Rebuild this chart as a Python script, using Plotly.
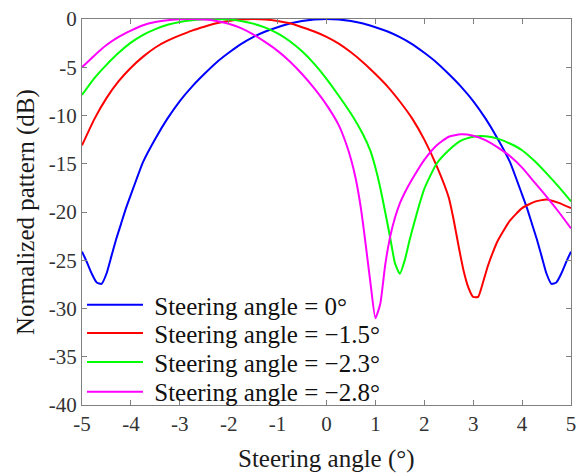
import plotly.graph_objects as go

# ---- data ----
blue_x = [-5, -4.9, -4.8, -4.7, -4.6, -4.5, -4.4, -4.3, -4.2, -4.1, -4, -3.75, -3.5, -3.25, -3, -2.75, -2.5,
          -2.25, -2, -1.75, -1.5, -1.25, -1, -0.75, -0.5, -0.25, 0,
          0.25, 0.5, 0.75, 1, 1.25, 1.5, 1.75, 2, 2.25, 2.5, 2.75, 3, 3.25, 3.5, 3.75, 4,
          4.1, 4.2, 4.3, 4.4, 4.5, 4.6, 4.7, 4.8, 4.9, 5]
blue_y = [-24.1, -25.2, -26.4, -27.3, -27.45, -26.4, -24.6, -22.8, -21.2, -19.6, -18.2, -14.8, -12.4, -10.3,
          -8.5, -7.0, -5.7, -4.5, -3.5, -2.6, -1.88, -1.3, -0.85, -0.47, -0.21, -0.05, 0,
          -0.05, -0.21, -0.47, -0.85, -1.3, -1.88, -2.6, -3.5, -4.5, -5.7, -7.0, -8.5, -10.3, -12.4, -14.8, -18.2,
          -19.6, -21.2, -22.8, -24.6, -26.4, -27.45, -27.3, -26.4, -25.2, -24.1]

red_x = [-5, -4.75, -4.5, -4.25, -4, -3.75, -3.5, -3.25, -3, -2.75, -2.5, -2.25, -2, -1.75, -1.5,
         -1.25, -1, -0.75, -0.5, -0.25, 0, 0.25, 0.5, 0.75, 1, 1.25, 1.5, 1.75, 2, 2.25, 2.5,
         2.6, 2.7, 2.8, 2.9, 3.0, 3.1, 3.2, 3.3, 3.4, 3.5,
         3.75, 4, 4.25, 4.5, 4.75, 5]
red_y = [-13.1, -10.4, -8.2, -6.45, -5.05, -3.9, -2.95, -2.25, -1.7, -1.2, -0.8, -0.45, -0.2, -0.05, 0,
         -0.05, -0.2, -0.45, -0.85, -1.3, -1.85, -2.55, -3.45, -4.5, -5.7, -7.0, -8.55, -10.3, -12.5, -15.2, -18.5,
         -20.8, -23.5, -26.0, -27.8, -28.8, -28.8, -27.3, -25.6, -24.2, -23.0,
         -20.9, -19.6, -18.95, -18.7, -19.05, -19.6]

green_x = [-5, -4.75, -4.5, -4.25, -4, -3.75, -3.5, -3.25, -3, -2.75, -2.5, -2.3,
           -2, -1.75, -1.5, -1.25, -1, -0.75, -0.5, -0.25, 0, 0.25, 0.5, 0.75, 0.9,
           1.0, 1.1, 1.2, 1.3, 1.4, 1.5, 1.6, 1.7, 1.8, 1.9, 2.0,
           2.25, 2.5, 2.75, 3, 3.25, 3.5, 3.75, 4, 4.25, 4.5, 4.75, 5]
green_y = [-7.87, -6.15, -4.75, -3.5, -2.45, -1.65, -1.05, -0.6, -0.3, -0.12, -0.03, 0,
           -0.05, -0.2, -0.48, -0.9, -1.5, -2.3, -3.35, -4.65, -6.2, -7.95, -9.8, -12.0, -13.7,
           -15.4, -17.5, -20.0, -22.6, -25.3, -26.4, -25.0, -22.9, -21.0, -19.2, -17.6,
           -15.0, -13.6, -12.6, -12.2, -12.15, -12.4, -12.9, -13.6, -14.7, -16.0, -17.4, -18.9]

magenta_x = [-5, -4.75, -4.5, -4.25, -4, -3.75, -3.5, -3.25, -3, -2.8,
             -2.5, -2.25, -2, -1.75, -1.5, -1.25, -1, -0.75, -0.5, -0.25, 0, 0.25,
             0.4, 0.5, 0.6, 0.7, 0.8, 0.9, 1.0, 1.1, 1.2, 1.3, 1.4, 1.5, 1.6,
             1.8, 2.0, 2.25, 2.5, 2.75, 3, 3.25, 3.5, 3.75, 4, 4.25, 4.5, 4.75, 5]
magenta_y = [-5.0, -3.8, -2.7, -1.85, -1.2, -0.65, -0.32, -0.12, -0.03, 0,
             -0.05, -0.2, -0.5, -0.95, -1.6, -2.4, -3.3, -4.4, -5.7, -7.2, -8.9, -11.0,
             -12.9, -14.5, -16.6, -19.5, -23.3, -27.4, -31.0, -29.5, -25.5, -22.6, -20.6, -19.1, -18.0,
             -16.2, -14.6, -13.1, -12.2, -11.95, -12.1, -12.55, -13.3, -14.2, -15.4, -16.9, -18.4, -20.0, -21.7]

series_names = ["\u00a0Steering angle = 0°", "\u00a0Steering angle = \u22121.5°",
                "\u00a0Steering angle = \u22122.3°", "\u00a0Steering angle = \u22122.8°"]
series_colors = ["#0000FF", "#FF0000", "#00FF00", "#FF00FF"]
legend_rows = [0.259, 0.186, 0.111, 0.034]

x_ticks = [-5, -4, -3, -2, -1, 0, 1, 2, 3, 4, 5]
y_ticks = [-40, -35, -30, -25, -20, -15, -10, -5, 0]

FONT = "Liberation Serif"
AXIS_GRAY = "#808080"

fig = go.Figure()
legend_ids = ["legend", "legend2", "legend3", "legend4"]
for xs, ys, name, col, lid in zip([blue_x, red_x, green_x, magenta_x],
                                  [blue_y, red_y, green_y, magenta_y],
                                  series_names, series_colors, legend_ids):
    fig.add_trace(go.Scatter(x=xs, y=ys, mode="lines", name=name, legend=lid,
                             line=dict(color=col, width=2, shape="spline", smoothing=0.5)))

axis_common = dict(showline=True, linecolor=AXIS_GRAY, linewidth=1, mirror="ticks",
                   ticks="inside", ticklen=5, tickcolor=AXIS_GRAY, tickwidth=1,
                   showgrid=False, zeroline=False, automargin=False,
                   tickfont=dict(family=FONT, size=21, color="#333333"))

legend_common = dict(x=0.0, xanchor="left", yanchor="middle",
                     bgcolor="rgba(0,0,0,0)", borderwidth=0,
                     font=dict(family=FONT, size=25, color="#111111"),
                     itemwidth=56)

fig.update_layout(
    width=586, height=473,
    margin=dict(l=82, r=15, t=19, b=68),
    paper_bgcolor="white", plot_bgcolor="white",
    font=dict(family=FONT),
    xaxis=dict(range=[-5, 5], tickvals=x_ticks, ticktext=[str(v) for v in x_ticks], **axis_common),
    yaxis=dict(range=[-40, 0], tickvals=y_ticks, ticktext=[str(v) for v in y_ticks], **axis_common),
    legend=dict(y=legend_rows[0], **legend_common),
    legend2=dict(y=legend_rows[1], **legend_common),
    legend3=dict(y=legend_rows[2], **legend_common),
    legend4=dict(y=legend_rows[3], **legend_common),
    showlegend=True,
    annotations=[
        dict(text="Steering angle (°)", xref="paper", yref="paper", x=0.5, y=-0.14,
             xanchor="center", yanchor="middle", showarrow=False,
             font=dict(family=FONT, size=25, color="#1a1a1a")),
        dict(text="Normalized pattern (dB)", xref="paper", yref="paper", x=-0.1145, y=0.5,
             xanchor="center", yanchor="middle", textangle=-90, showarrow=False,
             font=dict(family=FONT, size=25, color="#1a1a1a")),
    ],
)

fig.write_html("out.html", config={"displayModeBar": False},
               post_script="document.body.style.margin='0';")
